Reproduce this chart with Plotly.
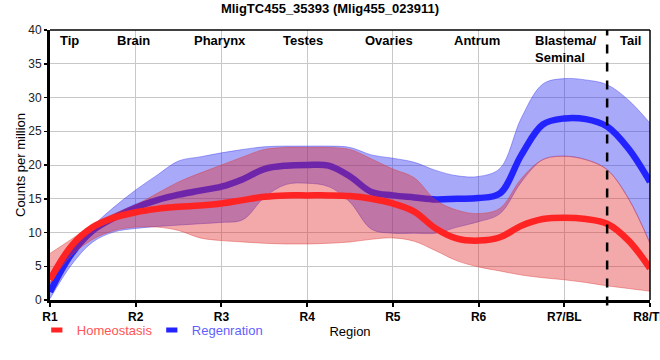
import plotly.graph_objects as go

# ---------------- data ----------------
x_pos = [1, 1.25, 1.5, 1.75, 2, 2.25, 2.5, 2.75, 3, 3.25, 3.5, 3.75, 4, 4.25, 4.5,
         4.75, 5, 5.25, 5.5, 5.75, 6, 6.25, 6.5, 6.75, 7, 7.25, 7.5, 7.75, 8]

homeo_mean = [3.0, 8.0, 10.8, 12.2, 13.0, 13.5, 13.8, 14.0, 14.3, 14.8, 15.3, 15.5, 15.5, 15.5, 15.4,
              15.0, 14.3, 13.1, 10.6, 9.1, 8.8, 9.3, 11.0, 12.0, 12.2, 12.0, 11.3, 8.8, 4.7]
homeo_hi = [6.9, 9.0, 11.2, 12.8, 14.1, 15.8, 17.5, 18.8, 20.0, 21.2, 22.3, 22.6, 22.6, 22.6, 22.3,
            20.9, 19.4, 18.1, 14.8, 13.3, 12.8, 13.6, 18.0, 20.8, 21.3, 20.8, 19.3, 15.0, 8.4]
homeo_lo = [2.5, 6.6, 9.0, 10.3, 10.8, 10.8, 10.3, 9.2, 8.8, 8.6, 8.4, 8.3, 8.3, 8.4, 8.6,
            9.0, 9.2, 8.7, 7.3, 5.8, 4.9, 4.3, 3.7, 3.3, 3.0, 2.6, 2.1, 1.7, 1.3]

regen_mean = [1.2, 6.8, 10.3, 12.2, 13.7, 14.8, 15.6, 16.2, 16.8, 17.9, 19.4, 19.9, 20.0, 19.9, 18.3,
              16.0, 15.5, 15.2, 14.9, 15.0, 15.1, 15.8, 21.5, 26.0, 26.9, 26.8, 25.7, 22.4, 17.5]
regen_hi = [2.5, 7.8, 11.0, 13.8, 16.3, 18.5, 20.6, 21.2, 21.8, 22.3, 22.7, 22.8, 22.8, 22.8, 22.6,
            21.5, 21.0, 20.4, 19.2, 18.4, 18.3, 19.5, 27.0, 32.0, 32.8, 32.6, 31.9, 29.6, 26.2]
regen_lo = [0.2, 5.2, 8.6, 10.1, 10.6, 10.9, 11.1, 11.3, 11.5, 11.9, 15.2, 17.1, 17.3, 16.8, 14.5,
            10.5, 9.9, 9.9, 9.9, 10.8, 11.6, 12.8, 17.5, 20.8, 21.3, 20.8, 19.3, 15.0, 8.4]

tick_vals = [1, 2, 3, 4, 5, 6, 7, 8]
tick_text = ["R1", "R2", "R3", "R4", "R5", "R6", "R7/BL", "R8/TL"]

region_names = ["Tip", "Brain", "Pharynx", "Testes", "Ovaries", "Antrum", "Blastema/<br>Seminal", "Tail"]
region_name_x = [1.23, 1.97, 2.98, 3.95, 4.95, 5.98, 6.64, 7.77]

tail_boundary = 7.5

series_names = ["Homeostasis", "Regenration"]

# ---------------- styles ----------------
RED_LINE = "rgb(255,35,35)"
RED_FILL = "rgba(225,40,40,0.4)"
RED_EDGE = "rgba(220,60,60,0.55)"
BLUE_LINE = "rgb(35,35,255)"
BLUE_FILL = "rgba(40,40,240,0.4)"
BLUE_EDGE = "rgba(60,60,240,0.55)"
FONT = "Liberation Sans, Arial, sans-serif"

fig = go.Figure()

def ribbon(lo, hi, edge, fill):
    fig.add_trace(go.Scatter(x=x_pos, y=lo, mode="lines",
                             line=dict(color=edge, width=0.8, shape="spline", smoothing=1),
                             showlegend=False, hoverinfo="skip"))
    fig.add_trace(go.Scatter(x=x_pos, y=hi, mode="lines", fill="tonexty", fillcolor=fill,
                             line=dict(color=edge, width=0.8, shape="spline", smoothing=1),
                             showlegend=False, hoverinfo="skip"))

# regeneration (drawn first, below)
ribbon(regen_lo, regen_hi, BLUE_EDGE, BLUE_FILL)
fig.add_trace(go.Scatter(x=x_pos, y=regen_mean, mode="lines",
                         line=dict(color=BLUE_LINE, width=6.5, shape="spline", smoothing=1),
                         showlegend=False, hoverinfo="skip"))
# homeostasis (on top)
ribbon(homeo_lo, homeo_hi, RED_EDGE, RED_FILL)
fig.add_trace(go.Scatter(x=x_pos, y=homeo_mean, mode="lines",
                         line=dict(color=RED_LINE, width=6.5, shape="spline", smoothing=1),
                         showlegend=False, hoverinfo="skip"))

# legend entries
for nm, col, tcol in [(series_names[0], RED_LINE, "rgb(255,85,85)"),
                      (series_names[1], BLUE_LINE, "rgb(95,95,255)")]:
    fig.add_trace(go.Scatter(x=[None], y=[None], mode="markers",
                             marker=dict(symbol="line-ew", size=8,
                                         line=dict(color=col, width=7)),
                             name=f"<span style='color:{tcol}'>{nm}</span>",
                             showlegend=True, hoverinfo="skip"))

# region name annotations
for nm, xv in zip(region_names, region_name_x):
    fig.add_annotation(x=xv, y=1, xref="x", yref="paper", yanchor="top",
                       xanchor="left" if "<br>" in nm else "center",
                       align="left", text=f"<b>{nm}</b>", showarrow=False,
                       font=dict(family=FONT, size=13, color="black"), yshift=-1)

# y-axis title
fig.add_annotation(x=-0.05, y=0.5, xref="paper", yref="paper", xanchor="center",
                   yanchor="middle", textangle=-90, text="Counts per million",
                   showarrow=False, font=dict(family=FONT, size=13, color="black"))

# tail boundary
fig.add_shape(type="line", x0=tail_boundary, x1=tail_boundary, xref="x",
              y0=-0.02, y1=1, yref="paper",
              line=dict(color="black", width=2.5, dash="dash"))
# thin top/right frame
fig.add_shape(type="line", x0=0, x1=1, xref="paper", y0=1, y1=1, yref="paper",
              line=dict(color="black", width=1.5))
fig.add_shape(type="line", x0=1, x1=1, xref="paper", y0=0, y1=1, yref="paper",
              line=dict(color="black", width=1.5))

fig.update_layout(
    width=660, height=360,
    margin=dict(l=50, r=10, t=30, b=60),
    paper_bgcolor="white", plot_bgcolor="white",
    font=dict(family=FONT, size=12, color="black"),
    title=dict(text="<b>MligTC455_35393 (Mlig455_023911)</b>", x=0.5, xref="container",
               xanchor="center", y=1 - 8.5 / 360, yref="container", yanchor="middle",
               font=dict(family=FONT, size=13, color="black")),
    showlegend=True,
    legend=dict(orientation="h", x=-0.022, y=-0.056, xanchor="left", yanchor="top",
                font=dict(family=FONT, size=13), bgcolor="rgba(0,0,0,0)",
                itemsizing="trace", entrywidth=70, entrywidthmode="pixels",
                traceorder="normal"),
    hovermode=False,
)

fig.update_xaxes(range=[1, 8], tickvals=tick_vals, ticktext=tick_text,
                 showgrid=True, gridcolor="#c8c8c8", gridwidth=1,
                 showline=True, linecolor="black", linewidth=3,
                 ticks="outside", ticklen=4, tickwidth=2, tickcolor="black",
                 tickfont=dict(family=FONT, size=12, color="black", weight="bold"),
                 ticklabeloverflow="allow",
                 title=dict(text="Region", standoff=4, font=dict(family=FONT, size=13)),
                 automargin=False, zeroline=False)
fig.update_yaxes(range=[0, 40], dtick=5, showgrid=True, gridcolor="#c8c8c8", gridwidth=1,
                 showline=True, linecolor="black", linewidth=3,
                 ticks="outside", ticklen=3, tickwidth=1.5, tickcolor="black",
                 tickfont=dict(family=FONT, size=12, color="#222"),
                 automargin=False, zeroline=False)

fig.write_html("out.html", config={"displayModeBar": False, "staticPlot": True},
               post_script="document.body.style.margin='0';document.body.style.overflow='hidden';")
